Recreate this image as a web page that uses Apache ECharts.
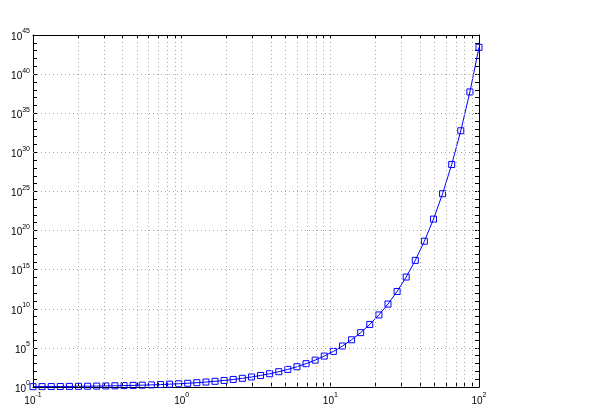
<!DOCTYPE html>
<html><head><meta charset="utf-8">
<script src="https://cdn.jsdelivr.net/npm/echarts@6/dist/echarts.min.js"></script>
<style>html,body{margin:0;padding:0;background:#fff}#c{width:601px;height:419px}</style>
</head><body><div id="c"></div>
<script>
const xValues = [0.1, 0.1151, 0.1326, 0.1526, 0.1758, 0.2024, 0.2330, 0.2683, 0.3089, 0.3556,
  0.4095, 0.4715, 0.5429, 0.6251, 0.7197, 0.8286, 0.9541, 1.0985, 1.2649, 1.4563,
  1.6768, 1.9307, 2.2230, 2.5595, 2.9471, 3.3932, 3.9069, 4.4984, 5.1795, 5.9636,
  6.8665, 7.9060, 9.1030, 10.4811, 12.0679, 13.8950, 15.9986, 18.4207, 21.2095, 24.4205,
  28.1177, 32.3746, 37.2759, 42.9193, 49.4171, 56.8987, 65.5129, 75.4312, 86.8511, 100];
const yValues = [1.105, 1.122, 1.142, 1.165, 1.192, 1.224, 1.262, 1.308, 1.362, 1.427,
  1.506, 1.602, 1.721, 1.868, 2.054, 2.290, 2.596, 3.000, 3.543, 4.290,
  5.349, 6.894, 9.236, 12.93, 19.05, 29.77, 49.74, 89.87, 177.6, 389.2,
  959, 2714, 8984, 3.56e4, 1.742e5, 1.083e6, 8.87e6, 1.00e8, 1.627e9, 4.03e10,
  1.626e12, 1.148e14, 1.545e16, 4.36e18, 2.90e21, 5.14e24, 2.83e28, 5.74e32, 5.24e37, 2.69e43];
const xLabelTicks = [0.1, 1, 10, 100];
const xAllTicks = [0.1, 0.2, 0.3, 0.4, 0.5, 0.6, 0.7, 0.8, 0.9, 1, 2, 3, 4, 5, 6, 7, 8, 9,
  10, 20, 30, 40, 50, 60, 70, 80, 90, 100];
const xGridLines = [0.2, 0.3, 0.4, 0.5, 0.6, 0.7, 0.8, 0.9, 1, 2, 3, 4, 5, 6, 7, 8, 9,
  10, 20, 30, 40, 50, 60, 70, 80, 90];
const yLabelTicks = [1e0, 1e5, 1e10, 1e15, 1e20, 1e25, 1e30, 1e35, 1e40, 1e45];
const yAllTicks = [1e0, 1e1, 1e2, 1e3, 1e4, 1e5, 1e6, 1e7, 1e8, 1e9, 1e10, 1e11, 1e12, 1e13, 1e14,
  1e15, 1e16, 1e17, 1e18, 1e19, 1e20, 1e21, 1e22, 1e23, 1e24, 1e25, 1e26, 1e27, 1e28, 1e29,
  1e30, 1e31, 1e32, 1e33, 1e34, 1e35, 1e36, 1e37, 1e38, 1e39, 1e40, 1e41, 1e42, 1e43, 1e44, 1e45];
const yGridLines = [1e5, 1e10, 1e15, 1e20, 1e25, 1e30, 1e35, 1e40];

const FONT = 'Liberation Sans';
const rich = {
  b: {fontSize: 10, fontFamily: FONT, color: '#000', lineHeight: 14, verticalAlign: 'bottom'},
  e: {fontSize: 7, fontFamily: FONT, color: '#000', verticalAlign: 'top'}
};
function powLabel(v) {
  const e = Math.round(Math.log10(v));
  return '{b|10}{e|' + e + '}';
}
const axisLine = {show: true, onZero: false, lineStyle: {color: '#000', width: 1}};
function xAxisCfg(pos, showLabel) {
  return {
    type: 'log', logBase: 10, min: 0.1, max: 100, position: pos,
    axisLine: axisLine,
    axisTick: {show: true, inside: true, length: 4, customValues: xAllTicks, lineStyle: {color: '#000', width: 1}},
    axisLabel: {show: showLabel, customValues: xLabelTicks, formatter: powLabel, rich: rich, margin: 5,
      showMinLabel: true, showMaxLabel: true, hideOverlap: false},
    splitLine: {show: false}, minorTick: {show: false}, minorSplitLine: {show: false}
  };
}
function yAxisCfg(pos, showLabel) {
  return {
    type: 'log', logBase: 10, min: 1, max: 1.000001e45, position: pos,
    axisLine: axisLine,
    axisTick: {show: true, inside: true, length: 4, customValues: yAllTicks, lineStyle: {color: '#000', width: 1}},
    axisLabel: {show: showLabel, customValues: yLabelTicks, formatter: powLabel, rich: rich, margin: 3,
      showMinLabel: true, showMaxLabel: true, hideOverlap: false},
    splitLine: {show: false}, minorTick: {show: false}, minorSplitLine: {show: false}
  };
}
const gridStyle = {color: '#a8a8a8', width: 1, type: [1, 3]};
const chart = echarts.init(document.getElementById('c'), null, {renderer: 'canvas'});
chart.setOption({
  animation: false,
  backgroundColor: '#fff',
  grid: {left: 33, right: 122, top: 35, bottom: 32, containLabel: false},
  xAxis: [xAxisCfg('bottom', true), xAxisCfg('top', false)],
  yAxis: [yAxisCfg('left', true), yAxisCfg('right', false)],
  series: [
    {
      type: 'line', xAxisIndex: 0, yAxisIndex: 0, data: [], z: 1, silent: true,
      markLine: {
        silent: true, symbol: ['none', 'none'], label: {show: false}, animation: false,
        lineStyle: gridStyle, emphasis: {disabled: true},
        data: xGridLines.map(v => ({xAxis: v})).concat(yGridLines.map(v => ({yAxis: v})))
      }
    },
    {
      type: 'line', xAxisIndex: 0, yAxisIndex: 0, z: 3,
      data: xValues.map((x, i) => [x, yValues[i]]),
      symbol: 'rect', symbolSize: 6, showAllSymbol: true,
      lineStyle: {color: '#0000ff', width: 1},
      itemStyle: {color: 'transparent', borderColor: '#0000ff', borderWidth: 1},
      emphasis: {disabled: true}
    }
  ]
});
</script>
</body></html>
